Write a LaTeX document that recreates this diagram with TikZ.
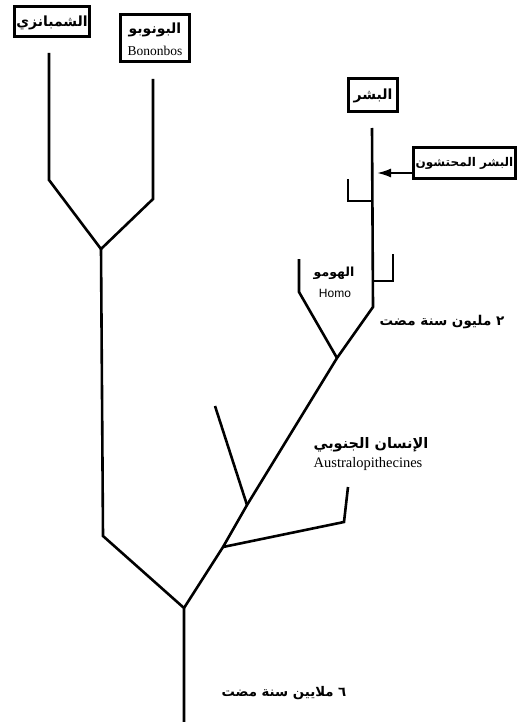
\documentclass[tikz,border=0pt]{standalone}
\usepackage{fontspec}
\setmainfont{Liberation Serif}
\newfontfamily\arabicfont[Script=Arabic]{DejaVu Sans}
\newfontfamily\homofont{Liberation Sans}
\TeXXeTstate=1
\usetikzlibrary{arrows.meta}
\newcommand\artxt[1]{{\arabicfont\bfseries\beginR #1\endR}}
\newcommand\fsz[1]{\fontsize{#1}{#1}\selectfont}
\begin{document}
\begin{tikzpicture}[x=1pt,y=-1pt,
  branch/.style={line width=2.6pt,line join=miter},
  box/.style={draw,line width=2.6pt,inner sep=0pt,align=center,fill=white},
  lbl/.style={inner sep=0pt,align=center}]
\useasboundingbox (0,0) rectangle (519,722);
% boxes
\node[box,minimum width=75.5pt,minimum height=30.5pt] (chimp) at (52,21.5) {};
\node[lbl] (chimpar) at (52,22.5) {\fsz{14}\artxt{الشمبانزي}};
\node[box,minimum width=69.5pt,minimum height=47.5pt] (bonobo) at (155,38) {};
\node[lbl] (bonoboar) at (155,29.5) {\fsz{14}\artxt{البونوبو}};
\node[lbl] (bonoboen) at (155,51) {\fsz{13.5}Bononbos};
\node[box,minimum width=49.5pt,minimum height=33.5pt] (human) at (373,95) {};
\node[lbl] (humanar) at (373,95.5) {\fsz{14}\artxt{البشر}};
\node[box,minimum width=102.5pt,minimum height=30.5pt] (nean) at (464.5,163) {};
\node[lbl] (neanar) at (464.5,163.5) {\fsz{12}\artxt{البشر المحتشون}};
% tree coordinates
\coordinate (ctop) at (49,53);
\coordinate (cbend) at (49,180);
\coordinate (btop) at (153,79);
\coordinate (bbend) at (153,199);
\coordinate (jape) at (101,249);
\coordinate (abend) at (103,536);
\coordinate (root) at (184,608);
\coordinate (base) at (184,722);
\coordinate (ja1) at (223,547);
\coordinate (a1bend) at (344,522);
\coordinate (a1top) at (348,487);
\coordinate (ja2) at (247,505);
\coordinate (a2top) at (215,406);
\coordinate (jhomo) at (337,358);
\coordinate (hbend) at (299,292);
\coordinate (htop) at (299,259);
\coordinate (sbend) at (373,307);
\coordinate (stop) at (372,128);
\coordinate (s1) at (372,201);
\coordinate (s1c) at (348,201);
\coordinate (s1t) at (348,179);
\coordinate (s2) at (373,281);
\coordinate (s2c) at (393,281);
\coordinate (s2t) at (393,254);
\coordinate (atip) at (377,173);
% branches
\draw[branch] (ctop) -- (cbend) -- (jape) -- (bbend) -- (btop);
\draw[branch] (jape) -- (abend) -- (root) -- (base);
\draw[branch] (root) -- (ja1) -- (ja2) -- (jhomo) -- (sbend) -- (stop);
\draw[branch] (ja1) -- (a1bend) -- (a1top);
\draw[branch] (ja2) -- (a2top);
\draw[branch] (jhomo) -- (hbend) -- (htop);
\draw[branch] (s1) -- (s1c) -- (s1t);
\draw[branch] (s2) -- (s2c) -- (s2t);
\draw[line width=2pt,-{Latex[length=14pt,width=9pt]}] (atip -| nean.west) -- (atip);
% labels
\node[lbl] (homoar) at (334,273) {\fsz{12.5}\artxt{الهومو}};
\node[lbl] (homoen) at (335,293) {\fsz{12}\homofont Homo};
\node[lbl] (mya2) at (442,322) {\fsz{13.5}\artxt{٢ مليون سنة مضت}};
\node[lbl] (austar) at (371,445) {\fsz{14.5}\artxt{الإنسان الجنوبي}};
\node[lbl] (austen) at (368,464) {\fsz{14.5}Australopithecines};
\node[lbl] (mya6) at (284,693) {\fsz{13.3}\artxt{٦ ملايين سنة مضت}};
\end{tikzpicture}
\end{document}
